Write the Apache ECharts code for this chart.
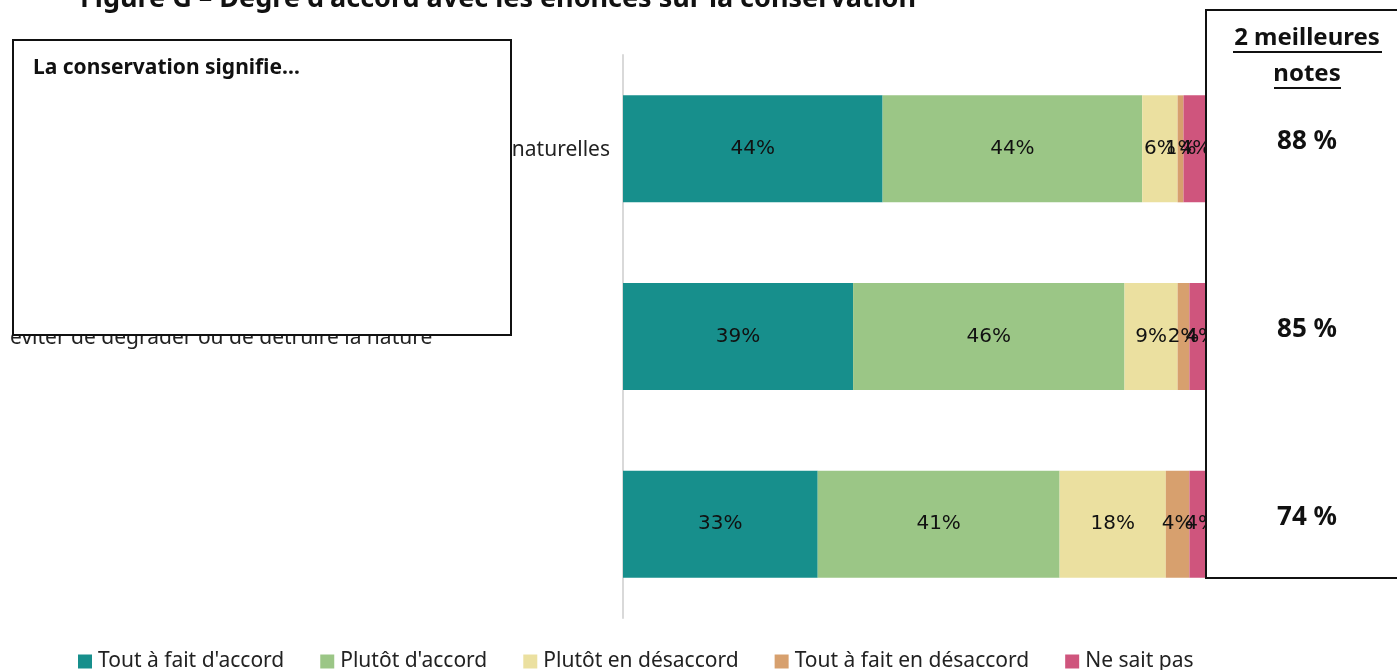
<!DOCTYPE html>
<html>
<head>
<meta charset="utf-8">
<script src="https://cdn.jsdelivr.net/npm/echarts@6/dist/echarts.min.js"></script>
<style>
  html, body { margin: 0; padding: 0; background: #fff; }
  #chart { width: 1397px; height: 670px; }
</style>
</head>
<body>
<div id="chart"></div>
<script>
// Statements (one bar each, top to bottom)
const categories = [
  'conserver et utiliser durablement les ressources naturelles',
  'éviter de dégrader ou de détruire la nature',
  ''
];

// Answer shares in percent
const toutAFaitAccord   = [44, 39, 33];
const plutotAccord      = [44, 46, 41];
const plutotDesaccord   = [6, 9, 18];
const toutAFaitDesacc   = [1, 2, 4];
const neSaitPas         = [4, 4, 4];

const seriesNames = [
  "Tout à fait d'accord",
  "Plutôt d'accord",
  'Plutôt en désaccord',
  'Tout à fait en désaccord',
  'Ne sait pas'
];
const seriesValues = [toutAFaitAccord, plutotAccord, plutotDesaccord, toutAFaitDesacc, neSaitPas];
const colors = ['#178F8C', '#9BC686', '#EBE0A0', '#D7A06E', '#CF557D'];

// "2 meilleures notes" = first two answers combined
const topTwo = toutAFaitAccord.map((v, i) => v + plutotAccord[i]);

const FONT = 'Noto Sans';

const chart = echarts.init(document.getElementById('chart'));

const option = {
  animation: false,
  backgroundColor: '#ffffff',
  color: colors,
  grid: { left: 623, right: 184, top: 55, bottom: 52, containLabel: false },
  xAxis: {
    type: 'value', min: 0, max: 100,
    show: false
  },
  yAxis: {
    type: 'category',
    data: categories,
    inverse: true,
    axisLine: { show: true, lineStyle: { color: '#d9d9d9', width: 2 } },
    axisTick: { show: false },
    axisLabel: {
      margin: 613,
      align: 'left',
      fontFamily: FONT,
      fontSize: 21,
      color: '#222',
      padding: [3, 0, 0, 0],
      formatter: (v, i) => i === 0 ? '{r|' + v + '}' : v,
      rich: { r: { width: 600, align: 'right', fontFamily: FONT, fontSize: 21, color: '#222' } }
    }
  },
  legend: {
    left: 73, top: 646,
    itemWidth: 14, itemHeight: 14, itemGap: 36,
    icon: 'rect',
    textStyle: { fontFamily: FONT, fontSize: 21, color: '#222', padding: [0, 0, 0, 1] },
    data: seriesNames
  },
  series: seriesNames.map((name, k) => ({
    name,
    type: 'bar',
    stack: 'total',
    barWidth: 107,
    data: seriesValues[k],
    itemStyle: { color: colors[k] },
    label: {
      show: true,
      position: 'inside',
      formatter: '{c}%',
      fontFamily: 'DejaVu Sans',
      fontSize: 20,
      color: '#111',
      padding: [4, 0, 0, 0]
    }
  }))
};

chart.setOption(option);

// Overlay boxes: statement heading box and "2 meilleures notes" column
function drawOverlays() {
  const elements = [];

  elements.push({
    type: 'text', x: 80, y: -1, z: 100,
    style: {
      text: "Figure G – Degré d'accord avec les énoncés sur la conservation",
      fontFamily: FONT, fontWeight: 'bold', fontSize: 27, fill: '#111',
      verticalAlign: 'middle', align: 'left'
    }
  });

  elements.push({
    type: 'rect', z: 100,
    shape: { x: 13, y: 40, width: 498, height: 295 },
    style: { fill: '#fff', stroke: '#111', lineWidth: 2 }
  });
  elements.push({
    type: 'text', z: 101, x: 33, y: 68,
    style: {
      text: 'La conservation signifie…',
      fontFamily: FONT, fontWeight: 'bold', fontSize: 21, fill: '#111',
      verticalAlign: 'middle', align: 'left'
    }
  });

  elements.push({
    type: 'rect', z: 100,
    shape: { x: 1206, y: 10, width: 220, height: 568 },
    style: { fill: '#fff', stroke: '#111', lineWidth: 2 }
  });
  const cx = 1307;
  elements.push({
    type: 'text', z: 101, x: cx, y: 38,
    style: { text: '2 meilleures', fontFamily: FONT, fontWeight: 'bold', fontSize: 24, fill: '#111', align: 'center', verticalAlign: 'middle' }
  });
  elements.push({
    type: 'line', z: 101,
    shape: { x1: 1233, y1: 52, x2: 1382, y2: 52 },
    style: { stroke: '#111', lineWidth: 2 }
  });
  elements.push({
    type: 'text', z: 101, x: cx, y: 74,
    style: { text: 'notes', fontFamily: FONT, fontWeight: 'bold', fontSize: 24, fill: '#111', align: 'center', verticalAlign: 'middle' }
  });
  elements.push({
    type: 'line', z: 101,
    shape: { x1: 1274, y1: 88, x2: 1341, y2: 88 },
    style: { stroke: '#111', lineWidth: 2 }
  });

  topTwo.forEach((v, i) => {
    const y = chart.convertToPixel({ yAxisIndex: 0 }, i);
    elements.push({
      type: 'text', z: 101, x: cx, y: y - 7,
      style: { text: v + ' %', fontFamily: FONT, fontWeight: 'bold', fontSize: 26, fill: '#111', align: 'center', verticalAlign: 'middle' }
    });
  });

  chart.setOption({ graphic: { elements } });
}
drawOverlays();
</script>
</body>
</html>
